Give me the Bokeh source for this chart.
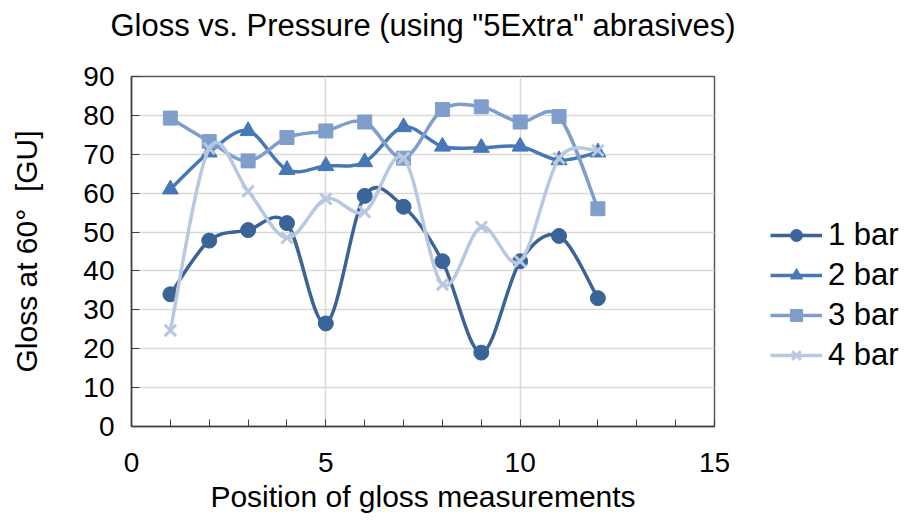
from bokeh.plotting import figure
from bokeh.models import Legend, LegendItem, Range1d, FixedTicker, Title
from bokeh.embed import file_html
from bokeh.resources import INLINE

positions = [1, 2, 3, 4, 5, 6, 7, 8, 9, 10, 11, 12]
bar1 = [34, 47.8, 50.5, 52.3, 26.5, 59.3, 56.5, 42.5, 19, 42.5, 49, 33]
bar2 = [61, 70.5, 76, 66, 67, 68, 77, 72, 71.7, 72, 68.5, 70.5]
bar3 = [79.3, 73.3, 68.3, 74.3, 76, 78.3, 69, 81.5, 82.2, 78.3, 79.7, 56]
bar4 = [24.7, 71.5, 60.5, 48.5, 58.5, 55.2, 69, 36.5, 51.3, 42.5, 69, 71]
series_names = ["1 bar", "2 bar", "3 bar", "4 bar"]
colors = ["#3A6497", "#4778B5", "#7F9ECB", "#B8C8E0"]
markers = ["circle", "triangle", "square", "x"]
x_ticks = [0, 5, 10, 15]
y_ticks = [0, 10, 20, 30, 40, 50, 60, 70, 80, 90]

FONT = "Liberation Sans"

p = figure(width=890, height=518, output_backend="svg", toolbar_location=None,
           x_range=Range1d(0, 15), y_range=Range1d(0, 90),
           min_border_left=131, min_border_top=76, min_border_right=10,
           min_border_bottom=92)
p.frame_width = 583
p.frame_height = 350
p.outline_line_color = "#595959"
p.outline_line_width = 1.5
p.background_fill_color = "white"
p.border_fill_color = "white"

# spacer panel between the frame and the title
spacer = Title(text=" ", text_font=FONT, text_font_size="10px", standoff=21)
p.add_layout(spacer, "above")
t = Title(text='Gloss vs. Pressure (using "5Extra" abrasives)', align="center",
          text_font=FONT, text_font_size="31px", text_font_style="normal",
          text_color="#000000", offset=5, standoff=0)
p.add_layout(t, "above")

for ax in (p.xaxis[0], p.yaxis[0]):
    ax.axis_line_color = "#404040"
    ax.axis_line_width = 1.5
    ax.major_tick_line_color = "#404040"
    ax.minor_tick_line_color = "#404040"
    ax.major_label_text_font = FONT
    ax.major_label_text_font_size = "28px"
    ax.major_label_text_color = "#000000"
    ax.axis_label_text_font = FONT
    ax.axis_label_text_font_size = "30px"
    ax.axis_label_text_font_style = "normal"
    ax.axis_label_text_color = "#000000"

p.xaxis.ticker = FixedTicker(ticks=x_ticks, minor_ticks=list(range(0, 16)))
p.yaxis.ticker = FixedTicker(ticks=y_ticks)
p.xaxis.major_tick_in = 7
p.xaxis.major_tick_out = 0
p.xaxis.minor_tick_in = 7
p.xaxis.minor_tick_out = 0
p.yaxis.major_tick_in = 8
p.yaxis.major_tick_out = 0
p.yaxis.minor_tick_line_color = None
p.xaxis.axis_label = "Position of gloss measurements"
p.yaxis.axis_label = "Gloss at 60°\u00a0\u00a0[GU]"
p.xaxis.major_label_standoff = 26
p.yaxis.major_label_standoff = 17
p.xaxis.axis_label_standoff = 5
p.yaxis.axis_label_standoff = 37

p.xgrid.grid_line_color = "#D9D9D9"
p.ygrid.grid_line_color = "#D9D9D9"
p.xgrid.grid_line_width = 1.5
p.ygrid.grid_line_width = 1.5


def smooth_segments(xs, ys):
    n = len(xs)
    out = {k: [] for k in ("x0", "y0", "x1", "y1", "cx0", "cy0", "cx1", "cy1")}
    for i in range(n - 1):
        xm, ym = (xs[i - 1], ys[i - 1]) if i > 0 else (xs[i], ys[i])
        xp, yp = (xs[i + 2], ys[i + 2]) if i + 2 < n else (xs[i + 1], ys[i + 1])
        out["x0"].append(xs[i]); out["y0"].append(ys[i])
        out["x1"].append(xs[i + 1]); out["y1"].append(ys[i + 1])
        out["cx0"].append(xs[i] + (xs[i + 1] - xm) / 6.0)
        out["cy0"].append(ys[i] + (ys[i + 1] - ym) / 6.0)
        out["cx1"].append(xs[i + 1] - (xp - xs[i]) / 6.0)
        out["cy1"].append(ys[i + 1] - (yp - ys[i]) / 6.0)
    return out

items = []
for name, ys, col, mk in zip(series_names, [bar1, bar2, bar3, bar4], colors, markers):
    seg = smooth_segments(positions, ys)
    p.bezier(x0=seg["x0"], y0=seg["y0"], x1=seg["x1"], y1=seg["y1"],
             cx0=seg["cx0"], cy0=seg["cy0"], cx1=seg["cx1"], cy1=seg["cy1"],
             line_color=col, line_width=3.5)
    if mk == "x":
        r = p.scatter(positions, ys, marker="x", size=16, line_color=col, line_width=3)
    else:
        size = {"circle": 15, "triangle": 16, "square": 14}[mk]
        r = p.scatter(positions, ys, marker=mk, size=size, fill_color=col, line_color=col)
    ln = p.line([positions[0]], [ys[0]], line_color=col, line_width=3.5)
    items.append(LegendItem(label=name, renderers=[ln, r]))

legend = Legend(items=items, location=(56, 53), border_line_color=None,
                background_fill_alpha=0, label_text_font=FONT,
                label_text_font_size="31px", label_text_color="#000000",
                glyph_width=52, glyph_height=30, label_height=30, spacing=4,
                padding=0, margin=0, label_standoff=6)
p.add_layout(legend, "right")

open("out.html", "w").write(file_html(p, INLINE))
